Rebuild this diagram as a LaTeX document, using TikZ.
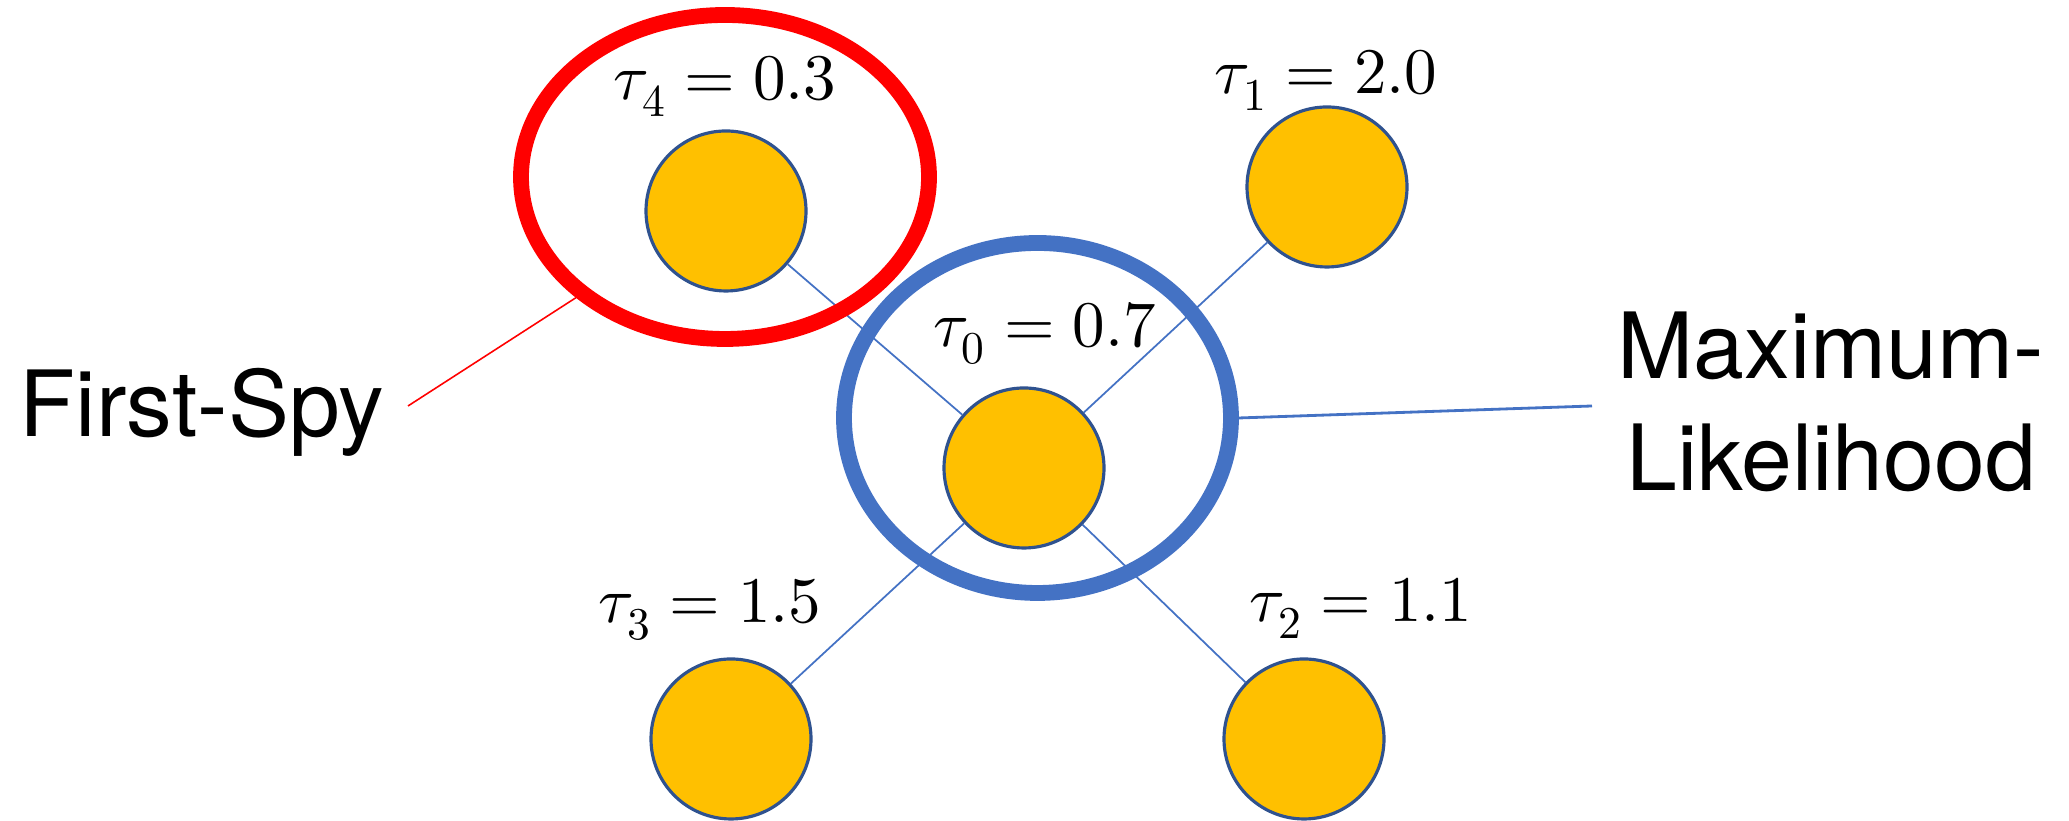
\documentclass[tikz,border=0pt]{standalone}
\usepackage{fontspec}
\usepackage{unicode-math}
\setsansfont{TeX Gyre Heros}
\usetikzlibrary{shapes.geometric}
\definecolor{nodeyellow}{HTML}{FFC000}
\definecolor{nodeedge}{HTML}{2F528F}
\definecolor{ringblue}{HTML}{4472C4}
\definecolor{ringred}{HTML}{FF0000}

\begin{document}
\begin{tikzpicture}[
    vertex/.style={circle, fill=nodeyellow, draw=nodeedge, line width=0.9pt,
      minimum size=1.6cm, inner sep=0pt},
    edge/.style={draw=ringblue, line width=0.5pt},
    tlabel/.style={anchor=base, inner sep=0pt, font=\fontsize{18.5}{20}\selectfont},
    ring/.style={ellipse, line width=4.5pt, inner sep=0pt},
    callout/.style={font=\sffamily\fontsize{26}{32}\selectfont, inner sep=0pt}
  ]
  \useasboundingbox (0,0) rectangle (20.69,8.21);

  % the five agents
  \node[vertex] (t0) at (10.24,3.53) {};
  \node[vertex] (t1) at (13.27,6.34) {};
  \node[vertex] (t2) at (13.04,0.82) {};
  \node[vertex] (t3) at (7.31,0.82) {};
  \node[vertex] (t4) at (7.26,6.10) {};
  \foreach \n in {t1,t2,t3,t4}
    \draw[edge] (t0) -- (\n);

  % estimator rings
  \node[ring, draw=ringred, minimum width=4.08cm, minimum height=3.24cm] (fsring) at (7.25,6.44) {};
  \node[ring, draw=ringblue, minimum width=3.87cm, minimum height=3.50cm] (mlring) at (10.375,4.03) {};

  % timestamps
  \node[tlabel] (l4) at (7.25,7.21) {$\tau_4 = 0.3$};
  \node[tlabel] (l1) at (13.26,7.27) {$\tau_1 = 2.0$};
  \node[tlabel] (l0) at (10.45,4.74) {$\tau_0 = 0.7$};
  \node[tlabel] (l3) at (7.10,1.98) {$\tau_3 = 1.5$};
  \node[tlabel] (l2) at (13.61,1.99) {$\tau_2 = 1.1$};

  % callouts
  \node[callout, anchor=base] (fs) at (2.02,3.84) {First-Spy};
  \node[callout, align=center, anchor=north] (ml) at (18.31,5.10) {Maximum-\\Likelihood};
  \coordinate (fsend) at (4.08,4.15);
  \coordinate (mlend) at (15.92,4.15);
  \draw[ringred, line width=0.45pt] (fsring.219) -- (fsend);
  \draw[ringblue, line width=0.8pt] (mlring.east) -- (mlend);
\end{tikzpicture}
\end{document}
